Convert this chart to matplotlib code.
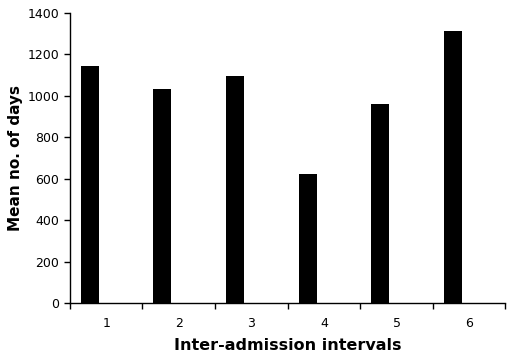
import numpy as np
import matplotlib
matplotlib.use('Agg')
import matplotlib.pyplot as plt

# inter-admission interval numbers and mean days
intervals = [1, 2, 3, 4, 5, 6]
mean_days = [1143, 1032, 1094, 620, 959, 1310]

fig = plt.figure(figsize=(5.10, 3.59), dpi=100)
ax = fig.add_axes([0.137, 0.156, 0.854, 0.809])

x = np.array(intervals)
ax.bar(x - 0.224, mean_days, width=0.248, color='black')

ax.set_xlim(0.5, 6.5)
ax.set_ylim(0, 1400)
ax.set_yticks(range(0, 1401, 200))
ax.set_xticks(x)
ax.set_xticks(np.arange(0.5, 6.6, 1), minor=True)
ax.tick_params(axis='x', which='major', length=0, pad=10, labelsize=9)
ax.tick_params(axis='x', which='minor', length=4, width=1, direction='out')
ax.tick_params(axis='y', length=4, width=1, direction='out', labelsize=9)

for s in ['top', 'right']:
	ax.spines[s].set_visible(False)
for s in ['left', 'bottom']:
	ax.spines[s].set_linewidth(1)

ax.set_xlabel('Inter-admission intervals', fontsize=11.5, fontweight='bold', labelpad=6)
ax.set_ylabel('Mean no. of days', fontsize=11, fontweight='bold', labelpad=3)

fig.savefig('out.png', dpi=100)
plt.close(fig)
